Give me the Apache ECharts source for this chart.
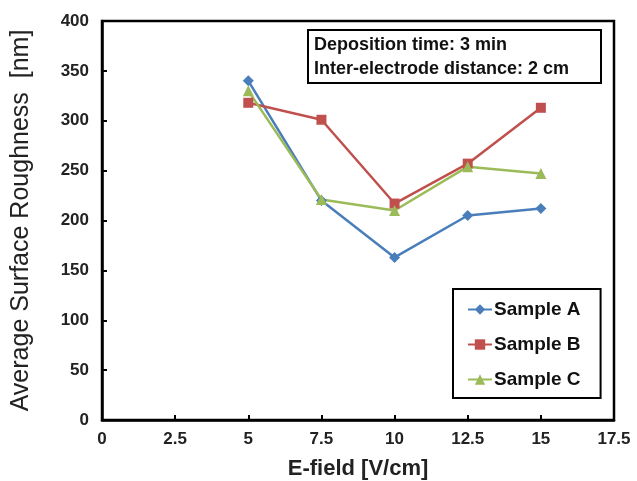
<!DOCTYPE html>
<html>
<head>
<meta charset="utf-8">
<script src="https://cdn.jsdelivr.net/npm/echarts@6/dist/echarts.min.js"></script>
<style>
    html, body { margin: 0; padding: 0; background: #fff; }
    #chart { width: 637px; height: 481px; }
</style>
</head>
<body>
<div id="chart"></div>
<script>
    let efield = [5, 7.5, 10, 12.5, 15];
    let sampleA = [340, 220, 163, 205, 212];
    let sampleB = [318, 301, 217, 257, 313];
    let sampleC = [330, 221, 210, 254, 247];
    let seriesNames = ['Sample A', 'Sample B', 'Sample C'];
    let noteLines = ['Deposition time: 3 min', 'Inter-electrode distance: 2 cm'];

    let pairs = function (xs, ys) {
        return xs.map(function (x, i) {
            return [x, ys[i]];
        });
    };

    let font = 'Liberation Sans, Arial, sans-serif';
    let chart = echarts.init(document.getElementById('chart'));
    let makeSeries = function (name, data, color, symbol, size) {
        return {
            name: name,
            type: 'line',
            data: pairs(efield, data),
            symbol: symbol,
            symbolSize: size,
            lineStyle: {color: color, width: 2.5},
            itemStyle: {color: color},
            z: 3
        };
    };

    let option = {
        animation: false,
        grid: {
            left: 102, right: 23, top: 21, bottom: 61,
            outerBoundsMode: 'none',
            containLabel: false,
            show: true, borderColor: '#000', borderWidth: 2.5
        },
        xAxis: {
            type: 'value', min: 0, max: 17.5, interval: 2.5,
            name: 'E-field [V/cm]', nameLocation: 'middle', nameGap: 38,
            nameTextStyle: {fontFamily: font, fontSize: 22, fontWeight: 'bold', color: '#222'},
            axisLine: {onZero: false, lineStyle: {color: '#000', width: 2.5}},
            axisTick: {inside: true, length: 5, lineStyle: {color: '#000', width: 2}},
            axisLabel: {fontFamily: font, fontSize: 17, fontWeight: 'bold', color: '#222', margin: 11},
            splitLine: {show: false}
        },
        yAxis: {
            type: 'value', min: 0, max: 400, interval: 50,
            name: 'Average Surface Roughness  [nm]', nameLocation: 'middle', nameGap: 68,
            nameTextStyle: {fontFamily: font, fontSize: 25, color: '#222'},
            axisLine: {show: true, lineStyle: {color: '#000', width: 2.5}},
            axisTick: {inside: true, length: 5, lineStyle: {color: '#000', width: 2}},
            axisLabel: {fontFamily: font, fontSize: 17, fontWeight: 'bold', color: '#222', margin: 13},
            splitLine: {show: false}
        },
        legend: {
            data: seriesNames,
            orient: 'vertical',
            left: 453, top: 289,
            padding: [11, 20, 9, 14],
            itemGap: 16,
            itemWidth: 24, itemHeight: 13,
            borderColor: '#000', borderWidth: 2,
            backgroundColor: '#fff',
            textStyle: {fontFamily: font, fontSize: 19, fontWeight: 'bold', color: '#111', padding: [0, 0, 0, -3]}
        },
        graphic: [
            {
                type: 'rect',
                shape: {x: 308, y: 30, width: 293, height: 53},
                style: {fill: '#fff', stroke: '#000', lineWidth: 2},
                z: 10
            },
            {
                type: 'text',
                left: 314, top: 33,
                style: {
                    text: noteLines.join('\n'),
                    font: 'bold 18px ' + font,
                    lineHeight: 24,
                    fill: '#111'
                },
                z: 11
            }
        ],
        series: [
            makeSeries(seriesNames[0], sampleA, '#4a7ebb', 'diamond', 11),
            makeSeries(seriesNames[1], sampleB, '#c0504d', 'rect', 10),
            makeSeries(seriesNames[2], sampleC, '#9bbb59', 'triangle', 11)
        ]
    };
    chart.setOption(option, true);
</script>
</body>
</html>
